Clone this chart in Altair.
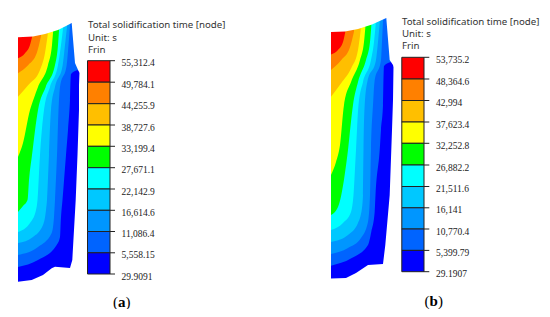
import altair as alt
import pandas as pd

# ---- values (picture pixel units) ----
BAND_COLORS = ["#0000ff", "#0064ff", "#0096ff", "#00c8ff", "#00ffff",
               "#00ff00", "#ffff00", "#ffbf00", "#ff8000", "#ff0000"]

A_TOP_X = [18, 33, 45, 58, 66, 71.7, 72.5, 75, 78.5, 82]
A_TOP_Y = [37.3, 36.5, 34, 30, 26, 23, 33, 63, 71, 76]
A_OUTER_X = [18, 31.7, 43, 51.7, 55, 70, 72.3, 75.7, 77.5, 79, 79, 79.5]
A_OUTER_Y = [281.7, 280, 275, 268.3, 266.7, 268, 260, 200, 155, 110, 85, 72]
A_CONTOURS = [
    ([18, 38, 56.7, 60, 61, 62.5, 66, 68, 70, 71, 78], [267, 260, 245, 237, 217, 200, 155, 130, 100, 74, 70]),
    ([18, 38, 51.7, 54, 55, 57, 58.5, 60, 66.7, 68.5, 70], [255, 247, 233, 217, 200, 155, 110, 87, 65, 45, 25]),
    ([18, 33, 43, 46, 47, 49, 51, 55, 62.7, 65, 67], [243, 237, 225, 210, 200, 155, 110, 87, 65, 45, 27]),
    ([18, 30, 36, 37.5, 40, 44, 50, 58, 61, 63], [232, 223, 210, 200, 155, 110, 87, 65, 45, 29]),
    ([18, 23, 27.5, 29, 32, 38, 45.7, 55, 58, 59], [212, 206, 200, 180, 155, 110, 87, 65, 45, 31]),
    ([18, 23, 30, 34, 38, 48, 52, 53], [157, 143, 110, 98, 87, 65, 45, 33]),
    ([18, 28.3, 40, 45, 47.7], [96.7, 85, 70, 53, 35]),
    ([18, 28.3, 36.7, 41], [73.3, 65, 53.3, 36]),
    ([18, 25, 30, 32.3], [58.3, 53.3, 45, 36]),
]

B_TOP_X = [331, 345, 358, 372, 386.3, 387.5, 389.7, 393, 396]
B_TOP_Y = [32, 31.5, 29, 24.5, 18, 33, 60, 65, 72]
B_OUTER_X = [331, 346, 356, 368, 383, 385.3, 389.7, 392, 393, 393.5]
B_OUTER_Y = [278.5, 278, 273, 265, 264, 245, 195, 130, 100, 66]
B_CONTOURS = [
    ([331, 351.3, 368, 371.3, 374.7, 375.5, 379.7, 381, 383, 384, 391], [265.7, 258.3, 245, 231.7, 211.7, 195, 150, 130, 105, 66, 62]),
    ([331, 348, 361, 368, 370, 371, 373, 374.5, 381, 382, 383], [254, 248, 238, 222, 195, 150, 105, 82, 60, 42, 21]),
    ([331, 348, 358, 362, 363, 363.5, 364.7, 367.3, 376, 378, 379.7], [242, 235, 223, 208, 195, 150, 105, 82, 60, 42, 23]),
    ([331, 343, 351, 353.5, 356, 358.5, 363, 371, 374, 375.7], [230, 223, 212, 195, 150, 105, 82, 60, 42, 24.5]),
    ([331, 338, 341.3, 348, 353, 358, 366, 370, 371.3], [215, 207, 195, 150, 105, 82, 60, 42, 26]),
    ([331, 336, 340, 344, 351, 360, 364, 365.3], [175, 162, 145, 105, 82, 60, 42, 28]),
    ([331, 341.3, 351.3, 358, 360.7], [96.7, 83, 68, 50, 30]),
    ([331, 341.3, 349.7, 354], [70, 60, 48, 31.7]),
    ([331, 338, 343, 345.3], [54.5, 50, 42, 32]),
]

A_TICKS_Y = [60.7, 82.2, 103.7, 125, 146.3, 167.7, 189, 210.3, 231.5, 252.8, 274]
B_TICKS_Y = [57.3, 79, 100.5, 122, 143.3, 165, 186.5, 207.8, 229, 250.4, 271.7]
A_LABELS = ["55,312.4", "49,784.1", "44,255.9", "38,727.6", "33,199.4", "27,671.1",
            "22,142.9", "16,614.6", "11,086.4", "5,558.15", "29.9091"]
B_LABELS = ["53,735.2", "48,364.6", "42,994", "37,623.4", "32,252.8", "26,882.2",
            "21,511.6", "16,141", "10,770.4", "5,399.79", "29.1907"]
LEGEND_COLORS = BAND_COLORS[::-1]
HEADER = ["Total solidification time [node]", "Unit: s", "Frin"]

A_BAR = (87.5, 110, 115)
B_BAR = (401.8, 424, 429.3)
A_LABEL_X = 121.5
B_LABEL_X = 436
A_HEAD = (88, [24.6, 38, 50])
B_HEAD = (402, [22, 34.3, 46.3])
A_CAPTION = (301.5, [113, 118, 125.5], ["(", "a", ")"])
B_CAPTION = (301, [424.5, 429.5, 438], ["(", "b", ")"])

X = alt.X("x:Q", scale=alt.Scale(domain=[8, 542], nice=False, zero=False), axis=None)
Y = alt.Y("y:Q", scale=alt.Scale(domain=[309, 8], nice=False, zero=False), axis=None)
CEILING = 8


def region(xs, ys, color, curve="linear"):
    df = pd.DataFrame({"x": xs, "y": ys, "c": CEILING})
    return alt.Chart(df).mark_area(color=color, interpolate=curve, opacity=1).encode(x=X, y=Y, y2="c:Q")


def panel(outer, contours, top_x, top_y, bar, ticks, labels, label_x, head, caption):
    layers = [region(outer[0], outer[1], BAND_COLORS[0])]
    layers += [region(c[0], c[1], col, "monotone") for c, col in zip(contours, BAND_COLORS[1:])]
    layers.append(region(top_x, top_y, "#ffffff"))
    # legend bar
    df = pd.DataFrame({"x": [bar[0]] * 10, "x2": [bar[1]] * 10,
                       "y": ticks[:-1], "y2": ticks[1:], "col": LEGEND_COLORS})
    layers.append(alt.Chart(df).mark_rect(stroke="#222222", strokeWidth=1).encode(
        x=X, x2="x2:Q", y=Y, y2="y2:Q",
        color=alt.Color("col:N", scale=None)))
    df = pd.DataFrame({"x": [bar[1]] * 11, "x2": [bar[2]] * 11, "y": ticks})
    layers.append(alt.Chart(df).mark_rule(color="#222222", strokeWidth=1).encode(x=X, x2="x2:Q", y=Y))
    df = pd.DataFrame({"x": [label_x] * 11, "y": [t + 2.6 for t in ticks], "t": labels})
    layers.append(alt.Chart(df).mark_text(font="Liberation Serif", fontSize=9.5, align="left",
                                          baseline="middle", color="#222222").encode(x=X, y=Y, text="t:N"))
    df = pd.DataFrame({"x": [head[0]] * 3, "y": head[1], "t": HEADER})
    layers.append(alt.Chart(df).mark_text(font="Noto Sans", fontSize=9.7, align="left",
                                          baseline="middle", color="#333333").encode(x=X, y=Y, text="t:N"))
    for i, (xp, ch) in enumerate(zip(caption[1], caption[2])):
        df = pd.DataFrame({"x": [xp], "y": [caption[0]], "t": [ch]})
        layers.append(alt.Chart(df).mark_text(font="Liberation Serif", fontSize=15, align="left",
                                              baseline="middle", color="#000000",
                                              fontWeight="bold" if i == 1 else "normal").encode(x=X, y=Y, text="t:N"))
    return layers


layers = panel((A_OUTER_X, A_OUTER_Y), A_CONTOURS, A_TOP_X, A_TOP_Y, A_BAR, A_TICKS_Y, A_LABELS, A_LABEL_X, A_HEAD, A_CAPTION) + \
         panel((B_OUTER_X, B_OUTER_Y), B_CONTOURS, B_TOP_X, B_TOP_Y, B_BAR, B_TICKS_Y, B_LABELS, B_LABEL_X, B_HEAD, B_CAPTION)

chart = alt.layer(*layers).properties(
    width=534, height=301, padding=0, autosize=alt.AutoSizeParams(type="none"),
    background="#ffffff"
).configure_view(stroke=None)

chart.save("out.html", embed_options={"renderer": "svg", "actions": False})
